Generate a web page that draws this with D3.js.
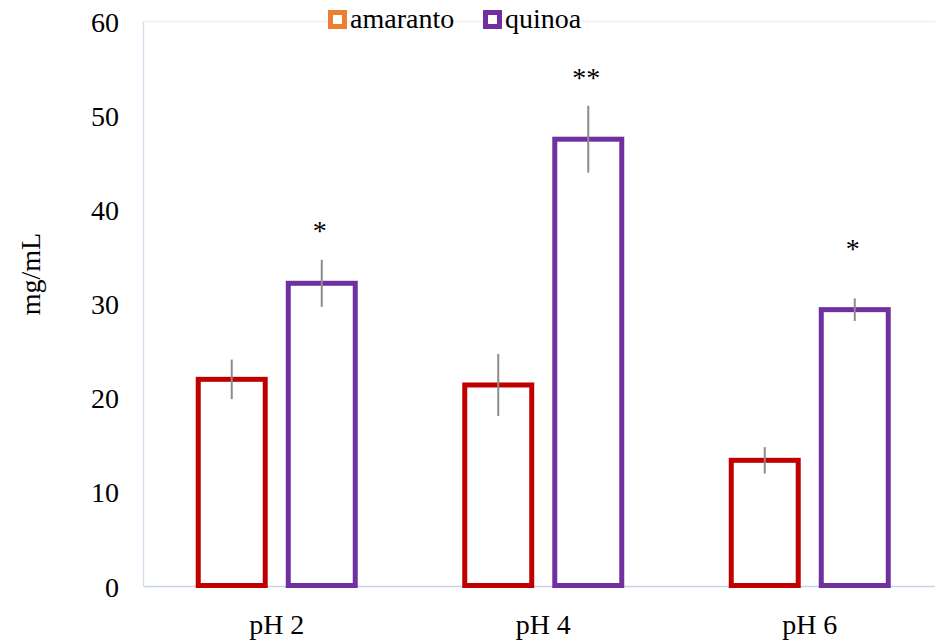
<!DOCTYPE html>
<html>
<head>
<meta charset="utf-8">
<script src="https://cdn.jsdelivr.net/npm/d3@7"></script>
<style>
  html, body { margin: 0; padding: 0; background: #ffffff; }
  svg { display: block; }
  text { font-family: "Liberation Serif", "Times New Roman", serif; fill: #000; }
</style>
</head>
<body>
<svg id="chart" width="935" height="641"></svg>
<script>
// ---- data ----
const categories = ["pH 2", "pH 4", "pH 6"];
const seriesNames = ["amaranto", "quinoa"];
const amaranto = [22.0, 21.4, 13.4];
const amarantoErr = [2.1, 3.3, 1.4];
const quinoa = [32.2, 47.5, 29.4];
const quinoaErr = [2.5, 3.55, 1.2];
const sigLabels = ["*", "**", "*"];
const sigY = [38.2, 54.5, 36.3];
const yTicks = [0, 10, 20, 30, 40, 50, 60];
const yLabel = "mg/mL";

// ---- layout ----
const W = 935, H = 641;
const plot = { left: 143.5, right: 943, top: 21.5, bottom: 586.5 };
const barColors = { amaranto: "#c00000", quinoa: "#7030a0" };
const legendColors = { amaranto: "#ed7d31", quinoa: "#7030a0" };
const FS = 28;

const svg = d3.select("#chart");

const x0 = d3.scaleBand().domain(categories).range([plot.left, plot.right]).paddingInner(0).paddingOuter(0);
const bw = x0.bandwidth();
const x1 = d3.scaleBand().domain(seriesNames)
  .range([bw / 2 - 78.5, bw / 2 + 78.5]).paddingInner(0.256).paddingOuter(0);
const y = d3.scaleLinear().domain([0, 60]).range([plot.bottom, plot.top]);

// frame
svg.append("line").attr("x1", plot.left).attr("x2", W).attr("y1", plot.top).attr("y2", plot.top)
  .attr("stroke", "#eef0f8").attr("stroke-width", 1.5);
svg.append("line").attr("x1", plot.left).attr("x2", plot.left).attr("y1", plot.top).attr("y2", plot.bottom)
  .attr("stroke", "#d3ddef").attr("stroke-width", 1.5);

// y axis labels
const yAxis = d3.axisLeft(y).tickValues(yTicks).tickSize(0).tickPadding(24.5).tickFormat(d3.format("d"));
const gy = svg.append("g").attr("transform", `translate(${plot.left},0)`).call(yAxis);
gy.select(".domain").remove();
gy.selectAll("text").style("font-family", '"Liberation Serif", "Times New Roman", serif')
  .style("font-size", FS + "px").attr("fill", "#000").attr("dy", "0.34em");

// x axis
const xAxis = d3.axisBottom(x0).tickSize(0).tickPadding(0);
const gx = svg.append("g").attr("transform", `translate(0,${plot.bottom})`).call(xAxis);
gx.select(".domain").remove();
gx.selectAll("text").style("font-family", '"Liberation Serif", "Times New Roman", serif')
  .style("font-size", FS + "px").attr("fill", "#000").attr("dy", null).attr("y", 47.5);

// y title
svg.append("text").attr("transform", `translate(40,274) rotate(-90)`)
  .attr("text-anchor", "middle").style("font-size", FS + "px").text(yLabel);

// bars
const rows = categories.map((c, i) => ({
  cat: c,
  vals: [
    { s: "amaranto", v: amaranto[i], e: amarantoErr[i] },
    { s: "quinoa", v: quinoa[i], e: quinoaErr[i] }
  ]
}));

const gBars = svg.append("g");
const groups = gBars.selectAll("g").data(rows).join("g")
  .attr("transform", d => `translate(${x0(d.cat)},0)`);

groups.selectAll("rect").data(d => d.vals).join("rect")
  .attr("x", d => x1(d.s))
  .attr("width", x1.bandwidth())
  .attr("y", d => y(d.v))
  .attr("height", d => y(0) - y(d.v) - 1)
  .attr("fill", "#ffffff")
  .attr("stroke", d => barColors[d.s])
  .attr("stroke-width", 5);

// bottom axis line (drawn under bars)
svg.append("line").attr("x1", plot.left).attr("x2", W).attr("y1", plot.bottom).attr("y2", plot.bottom)
  .attr("stroke", "#c5d3ec").attr("stroke-width", 1.5).lower();

// error bars
groups.selectAll("line.err").data(d => d.vals).join("line").attr("class", "err")
  .attr("x1", d => x1(d.s) + x1.bandwidth() / 2)
  .attr("x2", d => x1(d.s) + x1.bandwidth() / 2)
  .attr("y1", d => y(d.v + d.e))
  .attr("y2", d => y(d.v - d.e))
  .attr("stroke", "#8c8c8c").attr("stroke-width", 2);

// significance labels
svg.append("g").selectAll("text").data(categories).join("text")
  .attr("x", (c, i) => x0(c) + x1("quinoa") + x1.bandwidth() / 2 - 2)
  .attr("y", (c, i) => y(sigY[i]) + 13.5)
  .attr("text-anchor", "middle")
  .style("font-size", FS + "px")
  .text((c, i) => sigLabels[i]);

// legend
const legend = svg.append("g");
const legendX = [328, 483];
seriesNames.forEach((s, i) => {
  const g = legend.append("g").attr("transform", `translate(${legendX[i]},10)`);
  g.append("rect").attr("x", 2.5).attr("y", 2.5).attr("width", 14).attr("height", 14)
    .attr("fill", "#fff").attr("stroke", legendColors[s]).attr("stroke-width", 5);
  g.append("text").attr("x", 22).attr("y", 18).style("font-size", FS + "px").text(s);
});
</script>
</body>
</html>
